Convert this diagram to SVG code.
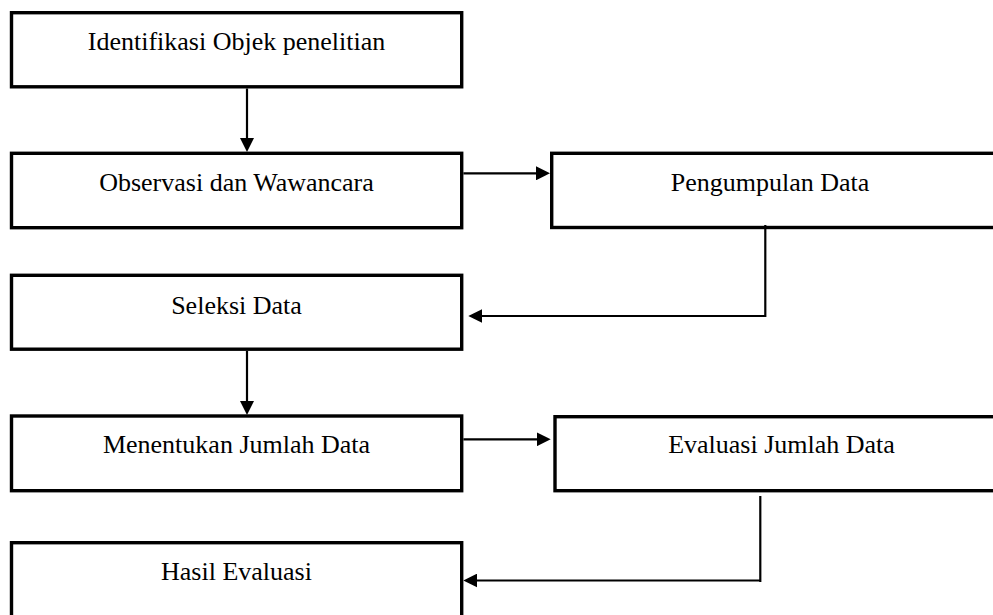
<svg xmlns="http://www.w3.org/2000/svg" width="993" height="615" viewBox="0 0 993 615">
<defs>
<marker id="ah" markerUnits="userSpaceOnUse" markerWidth="14" markerHeight="14" refX="1" refY="7" orient="auto">
<path d="M0,0 L14,7 L0,14 z" fill="#000"/>
</marker>
<style>
.box{fill:#fff;stroke:#000;stroke-width:3.4}
.lbl{font-family:"Liberation Serif","Times New Roman",serif;font-size:26px;fill:#000;text-anchor:middle}
.con{fill:none;stroke:#000;stroke-width:2.2}
.arr{marker-end:url(#ah)}
</style>
</defs>
<rect width="993" height="615" fill="#fff"/>
<g id="n1"><rect class="box" x="11.5" y="12.7" width="450.2" height="74.1"/><text class="lbl" x="236.5" y="50">Identifikasi Objek penelitian</text></g>
<g id="n2"><rect class="box" x="11.5" y="153.3" width="450.2" height="74.4"/><text class="lbl" x="236.5" y="191">Observasi dan Wawancara</text></g>
<g id="n3"><rect class="box" x="551.7" y="153.3" width="444" height="74.2"/><text class="lbl" x="770" y="191">Pengumpulan Data</text></g>
<g id="n4"><rect class="box" x="11.5" y="275.3" width="450.2" height="73.9"/><text class="lbl" x="236.5" y="314">Seleksi Data</text></g>
<g id="n5"><rect class="box" x="11.5" y="416" width="450.2" height="74.7"/><text class="lbl" x="236.5" y="453">Menentukan Jumlah Data</text></g>
<g id="n6"><rect class="box" x="555" y="416.7" width="444" height="74"/><text class="lbl" x="781.5" y="453">Evaluasi Jumlah Data</text></g>
<g id="n7"><rect class="box" x="11.5" y="542.7" width="450.2" height="74"/><text class="lbl" x="236.5" y="580">Hasil Evaluasi</text></g>
<g id="connectors">
<path class="con arr" d="M247,88.5 V139"/>
<path class="con arr" d="M463.4,173.3 H537"/>
<path class="con" d="M765.3,225 V317"/>
<path class="con arr" d="M765.3,316 H481.3"/>
<path class="con arr" d="M247,351 V402"/>
<path class="con arr" d="M463.4,439.3 H537.7"/>
<path class="con" d="M760.3,496 V582"/>
<path class="con arr" d="M760.3,580.5 H476.3"/>
</g>
</svg>
